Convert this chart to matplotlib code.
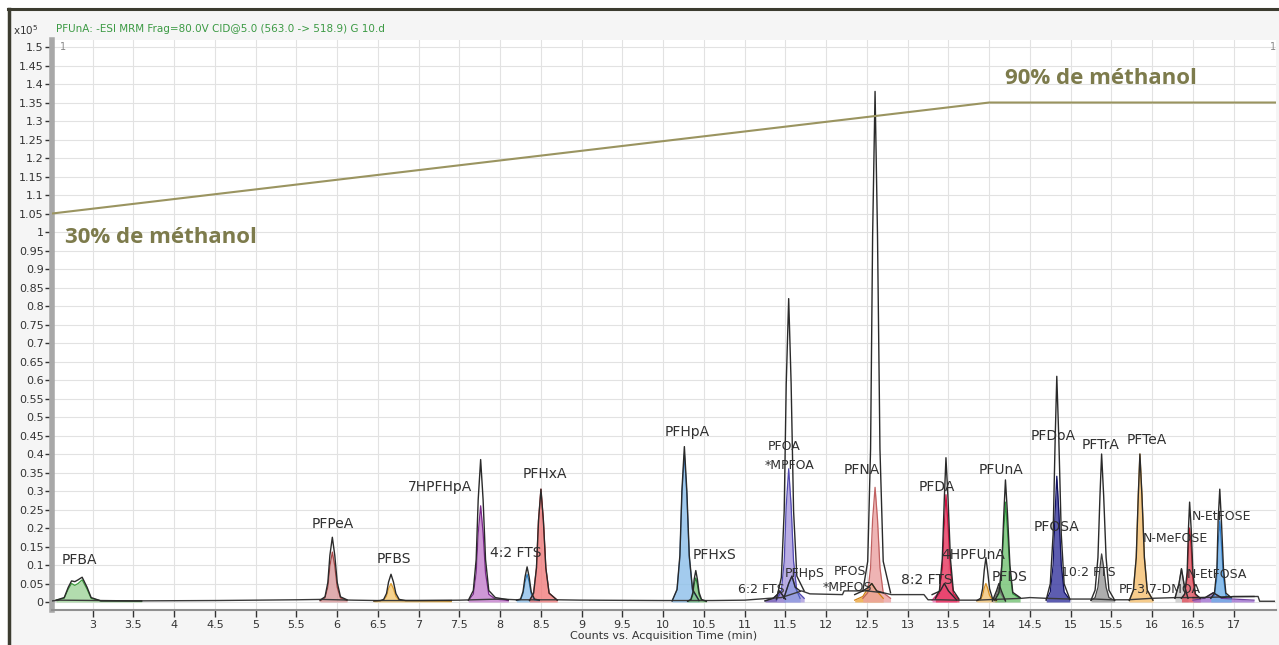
import numpy as np
import matplotlib.pyplot as plt
from matplotlib.patches import Rectangle
from matplotlib.lines import Line2D

# compound peaks: retention-time points (min) and intensities (x10^5 counts)
names = ["PFBA", "PFPeA", "PFBS", "7HPFHpA", "4:2 FTS", "PFHxA", "PFHpA", "PFHxS",
         "6:2 FTS", "PFOA", "PFHpS", "PFOS", "PFNA", "8:2 FTS", "PFDA", "4HPFUnA",
         "PFDS", "PFUnA", "PFDoA", "PFTrA", "PFTeA", "PF-3,7-DMOA", "N-MeFOSE",
         "N-EtFOSA", "N-EtFOSE"]

fill_colors = ["#9fd49a", "#d9999b", "#f5c872", "#c47fcc", "#8fc0ea", "#f07c7c", "#8cbfea", "#7cc47c",
               "#6a50b0", "#a99ade", "#8f9ae0", "#eda43a", "#eba2a2", "#f272b4", "#e8345c", "#f2c476",
               "#a8a8a8", "#72c272", "#34349e", "#9a9a9a", "#f5c070", "#c8c8c8", "#e2505e",
               "#a070d0", "#70b0e8"]
edge_colors = ["#3e9a3e", "#a84848", "#e0a030", "#7a2a8a", "#3080c0", "#e03030", "#3c7fc8", "#2a8a3a",
               "#40307a", "#5048b0", "#5060c0", "#d08010", "#c06060", "#e0307a", "#d01040", "#d89020",
               "#707070", "#2a9a3a", "#101060", "#404040", "#e09a30", "#808080", "#c02030",
               "#7040a0", "#3080d0"]

peak_t = [
    [2.55, 2.65, 2.70, 2.74, 2.78, 2.82, 2.87, 2.93, 2.98, 3.10, 3.6],
    [5.79, 5.85, 5.885, 5.91, 5.94, 5.97, 6.00, 6.04, 6.12],
    [6.45, 6.53, 6.57, 6.605, 6.63, 6.66, 6.69, 6.72, 6.76, 6.84, 7.4],
    [7.61, 7.67, 7.705, 7.73, 7.76, 7.79, 7.82, 7.86, 7.94, 8.1],
    [8.20, 8.25, 8.28, 8.305, 8.33, 8.355, 8.38, 8.42, 8.48],
    [8.36, 8.41, 8.445, 8.47, 8.50, 8.53, 8.56, 8.60, 8.70],
    [10.11, 10.17, 10.205, 10.23, 10.26, 10.29, 10.32, 10.36, 10.44],
    [10.30, 10.34, 10.365, 10.38, 10.40, 10.42, 10.44, 10.47, 10.53],
    [11.25, 11.35, 11.40, 11.43, 11.46, 11.50],
    [11.39, 11.45, 11.485, 11.51, 11.54, 11.57, 11.60, 11.64, 11.73],
    [11.48, 11.54, 11.58, 11.62, 11.68],
    [12.35, 12.45, 12.52, 12.56, 12.62, 12.70],
    [12.45, 12.51, 12.545, 12.57, 12.60, 12.63, 12.66, 12.70, 12.79],
    [13.30, 13.40, 13.45, 13.50, 13.60],
    [13.34, 13.39, 13.425, 13.45, 13.47, 13.495, 13.525, 13.56, 13.63],
    [13.85, 13.895, 13.92, 13.94, 13.96, 13.98, 14.005, 14.04, 14.09],
    [14.04, 14.09, 14.12, 14.15, 14.20],
    [14.07, 14.12, 14.155, 14.18, 14.20, 14.225, 14.255, 14.29, 14.38],
    [14.70, 14.75, 14.785, 14.81, 14.83, 14.855, 14.885, 14.92, 14.99],
    [15.25, 15.30, 15.335, 15.36, 15.38, 15.405, 15.435, 15.47, 15.54],
    [15.72, 15.77, 15.805, 15.83, 15.85, 15.875, 15.905, 15.94, 16.01],
    [16.28, 16.33, 16.36, 16.39, 16.44],
    [16.36, 16.40, 16.43, 16.445, 16.46, 16.48, 16.50, 16.53, 16.59],
    [16.50, 16.65, 16.75, 16.85, 17.00, 17.25],
    [16.72, 16.765, 16.795, 16.81, 16.83, 16.85, 16.875, 16.905, 16.97],
]
peak_fill = [
    [0.005, 0.01, 0.035, 0.05, 0.045, 0.05, 0.06, 0.035, 0.01, 0.003, 0.002],
    [0.003, 0.011, 0.04, 0.097, 0.135, 0.097, 0.04, 0.011, 0.004],
    [0.002, 0.003, 0.005, 0.015, 0.036, 0.05, 0.036, 0.015, 0.005, 0.003, 0.002],
    [0.004, 0.021, 0.078, 0.187, 0.26, 0.187, 0.078, 0.021, 0.008, 0.004],
    [0.004, 0.006, 0.022, 0.054, 0.075, 0.054, 0.022, 0.006, 0.004],
    [0.004, 0.024, 0.092, 0.22, 0.305, 0.22, 0.092, 0.024, 0.005],
    [0.003, 0.032, 0.12, 0.29, 0.40, 0.29, 0.12, 0.032, 0.004],
    [0.002, 0.005, 0.02, 0.047, 0.065, 0.047, 0.02, 0.005, 0.002],
    [0.003, 0.01, 0.02, 0.03, 0.02, 0.008],
    [0.005, 0.03, 0.11, 0.26, 0.36, 0.26, 0.11, 0.03, 0.01],
    [0.01, 0.05, 0.07, 0.04, 0.01],
    [0.005, 0.015, 0.04, 0.05, 0.03, 0.01],
    [0.01, 0.025, 0.093, 0.223, 0.31, 0.223, 0.093, 0.025, 0.01],
    [0.005, 0.03, 0.05, 0.03, 0.005],
    [0.008, 0.023, 0.087, 0.209, 0.29, 0.209, 0.087, 0.023, 0.005],
    [0.003, 0.006, 0.018, 0.038, 0.05, 0.038, 0.018, 0.006, 0.003],
    [0.003, 0.02, 0.04, 0.02, 0.003],
    [0.005, 0.022, 0.081, 0.194, 0.27, 0.194, 0.081, 0.022, 0.01],
    [0.005, 0.027, 0.10, 0.245, 0.34, 0.245, 0.10, 0.027, 0.006],
    [0.004, 0.012, 0.04, 0.094, 0.13, 0.094, 0.04, 0.012, 0.004],
    [0.004, 0.032, 0.12, 0.288, 0.40, 0.288, 0.12, 0.032, 0.005],
    [0.01, 0.05, 0.09, 0.05, 0.01],
    [0.01, 0.02, 0.06, 0.144, 0.20, 0.144, 0.06, 0.02, 0.01],
    [0.005, 0.01, 0.025, 0.01, 0.008, 0.005],
    [0.01, 0.018, 0.066, 0.158, 0.22, 0.158, 0.066, 0.018, 0.01],
]
peak_trace = [
    [0.005, 0.012, 0.04, 0.057, 0.055, 0.06, 0.067, 0.04, 0.012, 0.003, 0.003],
    [0.005, 0.014, 0.053, 0.126, 0.175, 0.126, 0.053, 0.014, 0.006],
    [0.003, 0.004, 0.007, 0.023, 0.054, 0.075, 0.054, 0.023, 0.007, 0.004, 0.004],
    [0.005, 0.031, 0.115, 0.277, 0.385, 0.277, 0.115, 0.031, 0.012, 0.006],
    [0.005, 0.008, 0.028, 0.068, 0.095, 0.068, 0.028, 0.008, 0.005],
    [0.004, 0.024, 0.092, 0.22, 0.305, 0.22, 0.092, 0.024, 0.005],
    [0.003, 0.034, 0.126, 0.302, 0.42, 0.302, 0.126, 0.034, 0.004],
    [0.002, 0.007, 0.026, 0.061, 0.085, 0.061, 0.026, 0.007, 0.002],
    [0.003, 0.01, 0.02, 0.03, 0.02, 0.008],
    [0.008, 0.066, 0.246, 0.59, 0.82, 0.59, 0.246, 0.07, 0.03],
    [0.01, 0.05, 0.07, 0.04, 0.03],
    [0.02, 0.03, 0.04, 0.05, 0.03, 0.025],
    [0.03, 0.11, 0.414, 0.99, 1.38, 0.99, 0.414, 0.11, 0.025],
    [0.02, 0.03, 0.05, 0.03, 0.006],
    [0.01, 0.031, 0.117, 0.281, 0.39, 0.281, 0.117, 0.031, 0.008],
    [0.004, 0.01, 0.036, 0.086, 0.12, 0.086, 0.036, 0.01, 0.005],
    [0.003, 0.03, 0.05, 0.03, 0.003],
    [0.005, 0.026, 0.099, 0.238, 0.33, 0.238, 0.099, 0.026, 0.012],
    [0.006, 0.049, 0.183, 0.44, 0.61, 0.44, 0.183, 0.049, 0.008],
    [0.005, 0.032, 0.12, 0.288, 0.40, 0.288, 0.12, 0.032, 0.005],
    [0.004, 0.032, 0.12, 0.288, 0.40, 0.288, 0.12, 0.032, 0.005],
    [0.01, 0.05, 0.09, 0.05, 0.01],
    [0.01, 0.022, 0.081, 0.194, 0.27, 0.194, 0.081, 0.022, 0.01],
    [0.012, 0.012, 0.025, 0.012, 0.015, 0.015],
    [0.01, 0.024, 0.092, 0.22, 0.305, 0.22, 0.092, 0.024, 0.012],
]

# black overlay trace between peaks
base_t = [2.5, 2.6, 3.1, 3.5, 4.5, 5.5, 5.8, 6.2, 6.5, 7.0, 7.5, 8.0, 8.2, 8.7, 9.0, 10.0, 10.6,
          11.0, 11.3, 11.45, 11.7, 11.8, 12.2, 12.22, 12.5, 12.7, 12.8, 13.2, 13.25, 13.4, 13.6,
          13.85, 14.4, 14.5, 14.7, 15.0, 15.3, 15.5, 15.7, 16.0, 16.3, 16.6, 16.9, 17.3, 17.32, 17.5]
base_y = [0.003, 0.005, 0.004, 0.003, 0.004, 0.006, 0.007, 0.005, 0.004, 0.004, 0.005, 0.008,
          0.006, 0.006, 0.005, 0.004, 0.004, 0.005, 0.01, 0.012, 0.03, 0.022, 0.02, 0.03, 0.03,
          0.025, 0.02, 0.02, 0.006, 0.006, 0.005, 0.005, 0.01, 0.012, 0.01, 0.008, 0.008, 0.006,
          0.006, 0.01, 0.012, 0.012, 0.014, 0.015, 0.002, 0.002]

# peak labels
label_text = ["PFBA", "PFPeA", "PFBS", "7HPFHpA", "4:2 FTS", "PFHxA", "PFHpA", "PFHxS",
              "6:2 FTS", "PFOA", "*MPFOA", "PFHpS", "PFOS", "*MPFOS", "PFNA", "8:2 FTS",
              "PFDA", "4HPFUnA", "PFDS", "PFUnA", "PFDoA", "PFOSA", "10:2 FTS", "PFTrA",
              "PFTeA", "N-MeFOSE", "PF-3,7-DMOA", "N-EtFOSE", "N-EtFOSA"]
label_t = [2.84, 5.94, 6.69, 7.26, 8.19, 8.55, 10.30, 10.63, 11.20, 11.49, 11.55, 11.74,
           12.29, 12.26, 12.44, 13.23, 13.36, 13.80, 14.25, 14.14, 14.78, 14.83, 15.22,
           15.37, 15.93, 16.28, 16.09, 16.85, 16.80]
label_y = [0.114, 0.21, 0.116, 0.31, 0.132, 0.346, 0.46, 0.127, 0.035, 0.42, 0.368, 0.078,
           0.082, 0.038, 0.357, 0.06, 0.31, 0.127, 0.068, 0.357, 0.449, 0.203, 0.081,
           0.424, 0.438, 0.173, 0.035, 0.23, 0.073]
small_labels = {"6:2 FTS", "PFOA", "*MPFOA", "PFHpS", "PFOS", "*MPFOS", "10:2 FTS",
                "N-MeFOSE", "PF-3,7-DMOA", "N-EtFOSE", "N-EtFOSA"}

# methanol gradient
grad_t = [2.5, 14.0, 17.52]
grad_y = [1.05, 1.35, 1.35]

W, H = 1279, 645
fig = plt.figure(figsize=(W / 100, H / 100), dpi=100, facecolor="white")
fig.patches.append(Rectangle((8 / W, 0), 1 - 8 / W, 1 - 9 / H, transform=fig.transFigure,
                             facecolor="#f5f5f5", edgecolor="none", zorder=-5))
fig.lines.append(Line2D([8 / W, 1], [1 - 9 / H, 1 - 9 / H], transform=fig.transFigure,
                        color="#3c3c30", lw=2.2))
fig.lines.append(Line2D([9 / W, 9 / W], [0, 1 - 9 / H], transform=fig.transFigure,
                        color="#3c3c30", lw=2.5))

ax = fig.add_axes([52 / W, 35 / H, 1224 / W, 570 / H])
ax.set_facecolor("white")

ax.plot(base_t, base_y, color="#3a3a3a", lw=1.0, zorder=3)
for t, f, tr, fc, ec in zip(peak_t, peak_fill, peak_trace, fill_colors, edge_colors):
    ax.fill_between(t, f, 0, color=fc, alpha=0.8, lw=0, zorder=2)
    ax.plot(t, f, color=ec, lw=0.9, zorder=2.5)
    ax.plot(t, tr, color="#2a2a2a", lw=1.0, zorder=3)

for txt, t, y in zip(label_text, label_t, label_y):
    fs = 9 if txt in small_labels else 10
    ax.text(t, y, txt, fontsize=fs, color="#303030", ha="center", va="center", zorder=5)

ax.plot(grad_t, grad_y, color="#9a9460", lw=1.5, zorder=4)
ax.text(2.66, 0.986, "30% de méthanol", fontsize=16, fontweight="bold", color="#7d7b4c",
        family=["Open Sans", "DejaVu Sans"], ha="left", va="center", zorder=5)
ax.text(14.19, 1.416, "90% de méthanol", fontsize=16, fontweight="bold", color="#7d7b4c",
        family=["Open Sans", "DejaVu Sans"], ha="left", va="center", zorder=5)

ax.set_xlim(2.5, 17.52)
ax.set_ylim(-0.0216, 1.519)
ax.set_xticks(np.arange(3, 17.01, 0.5))
ax.set_xticklabels(["%g" % v for v in np.arange(3, 17.01, 0.5)])
ax.set_yticks(np.arange(0, 1.501, 0.05))
ax.set_yticklabels(["%g" % round(v, 2) for v in np.arange(0, 1.501, 0.05)])
ax.tick_params(axis="both", labelsize=8, colors="#333333", length=5, width=1)
ax.tick_params(axis="x", pad=2)
ax.tick_params(axis="y", pad=1)
ax.grid(True, color="#e2e2e2", lw=0.8, zorder=0)
ax.set_axisbelow(True)
for s in ["top", "right"]:
    ax.spines[s].set_visible(False)
ax.spines["left"].set_color("#a8a8a8")
ax.spines["left"].set_linewidth(4)
ax.spines["bottom"].set_color("#909090")
ax.spines["bottom"].set_linewidth(1.5)
ax.set_xlabel("Counts vs. Acquisition Time (min)", fontsize=8, color="#333333", labelpad=1)

ax.text(2.6, 1.50, "1", fontsize=7, color="#888888", ha="left", va="center")
ax.text(17.45, 1.50, "1", fontsize=7, color="#888888", ha="left", va="center")

fig.text(13 / W, 1 - 30 / H, "x10$^{5}$", fontsize=7.5, color="#333333", va="center")
fig.text(56 / W, 1 - 29 / H, "PFUnA: -ESI MRM Frag=80.0V CID@5.0 (563.0 -> 518.9) G 10.d",
         fontsize=7.5, color="#3c9a44", va="center")

fig.savefig("out.png", dpi=100, facecolor=fig.get_facecolor())
